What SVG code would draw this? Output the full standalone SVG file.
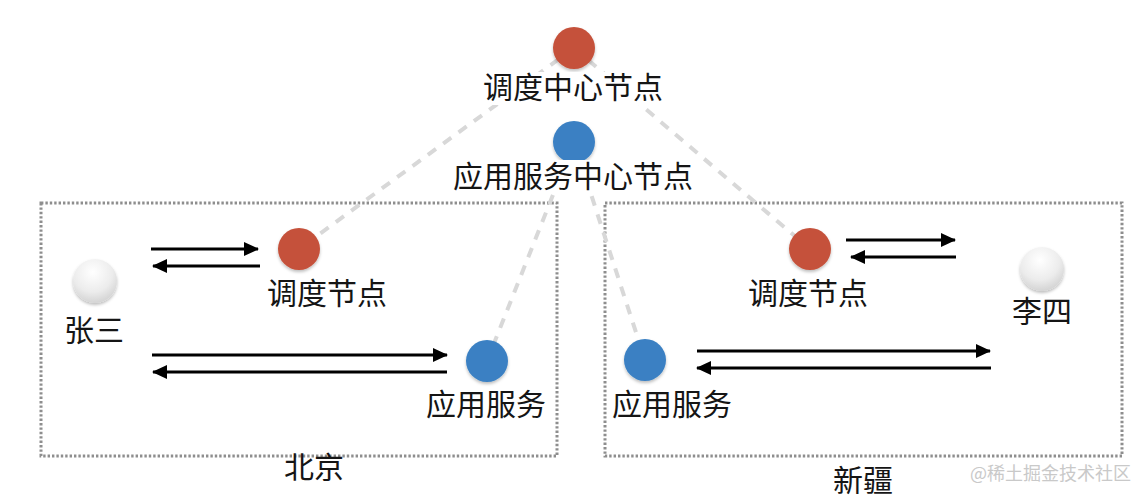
<svg xmlns="http://www.w3.org/2000/svg" width="1146" height="500" viewBox="0 0 1146 500">
<defs>
<style>
.lbl{font-family:"Noto Sans CJK SC","Noto Sans",sans-serif;font-size:30px;fill:#151515;text-anchor:middle}
.wm{font-family:"Noto Sans CJK SC","Noto Sans",sans-serif;font-size:18px;fill:#c9c9c9}
.box{fill:none;stroke:#8e8e8e;stroke-width:3;stroke-dasharray:2.4 2}
.link{stroke:#d8d8d8;stroke-width:4;stroke-dasharray:10 9;fill:none}
.arr{stroke:#000;stroke-width:3;fill:none;marker-end:url(#ah)}
.red{fill:#c5513a;filter:url(#sh)}
.blue{fill:#3a80c3;filter:url(#sh)}
.user{fill:url(#wg);filter:url(#sh)}
.bg{fill:#fff}
</style>
<marker id="ah" viewBox="0 0 15 14" refX="14" refY="7" markerWidth="15" markerHeight="14" markerUnits="userSpaceOnUse" orient="auto">
<path d="M0,0 L15,7 L0,14 Z" fill="#000"/>
</marker>
<radialGradient id="wg" cx="0.45" cy="0.3" r="0.75">
<stop offset="0" stop-color="#ffffff"/>
<stop offset="0.6" stop-color="#ececec"/>
<stop offset="1" stop-color="#cfcfcf"/>
</radialGradient>
<filter id="sh" x="-30%" y="-30%" width="160%" height="170%">
<feDropShadow dx="0" dy="2" stdDeviation="1.5" flood-color="#000" flood-opacity="0.25"/>
</filter>
</defs>
<rect width="1146" height="500" fill="#fff"/>

<g id="region-beijing">
<rect class="box" x="41" y="203" width="516" height="253"/>
<text class="lbl" x="314" y="478">北京</text>
</g>
<g id="region-xinjiang">
<rect class="box" x="605" y="203" width="517" height="253"/>
<text class="lbl" x="863" y="491">新疆</text>
</g>

<g id="connectors">
<line class="link" x1="574" y1="48" x2="299" y2="249"/>
<line class="link" x1="574" y1="48" x2="810" y2="249"/>
<line class="link" x1="574" y1="142" x2="487" y2="361"/>
<line class="link" x1="574" y1="142" x2="645" y2="360"/>
<line class="arr" x1="151" y1="249" x2="258" y2="249"/>
<line class="arr" x1="260" y1="266" x2="153" y2="266"/>
<line class="arr" x1="152" y1="355" x2="447" y2="355"/>
<line class="arr" x1="447" y1="372" x2="153" y2="372"/>
<line class="arr" x1="846" y1="240" x2="955" y2="240"/>
<line class="arr" x1="956" y1="257" x2="851" y2="257"/>
<line class="arr" x1="697" y1="351" x2="990" y2="351"/>
<line class="arr" x1="991" y1="368" x2="697" y2="368"/>
</g>

<g id="dispatch-center">
<circle class="red" cx="574" cy="48" r="21"/>
<rect class="bg" x="482" y="72" width="184" height="33"/>
<text class="lbl" x="573" y="98">调度中心节点</text>
</g>
<g id="app-center">
<circle class="blue" cx="574" cy="142" r="21"/>
<rect class="bg" x="450" y="160" width="246" height="34"/>
<text class="lbl" x="573" y="187">应用服务中心节点</text>
</g>
<g id="zhangsan">
<circle class="user" cx="95" cy="281" r="22"/>
<text class="lbl" x="94" y="341">张三</text>
</g>
<g id="bj-dispatch">
<circle class="red" cx="299" cy="249" r="21"/>
<text class="lbl" x="327" y="304">调度节点</text>
</g>
<g id="bj-app">
<circle class="blue" cx="487" cy="361" r="21"/>
<text class="lbl" x="486" y="415">应用服务</text>
</g>
<g id="xj-dispatch">
<circle class="red" cx="810" cy="249" r="21"/>
<text class="lbl" x="808" y="304">调度节点</text>
</g>
<g id="lisi">
<circle class="user" cx="1042" cy="269" r="22"/>
<text class="lbl" x="1042" y="322">李四</text>
</g>
<g id="xj-app">
<circle class="blue" cx="645" cy="360" r="21"/>
<text class="lbl" x="672" y="415">应用服务</text>
</g>
<text class="wm" x="970" y="480">@稀土掘金技术社区</text>
</svg>
